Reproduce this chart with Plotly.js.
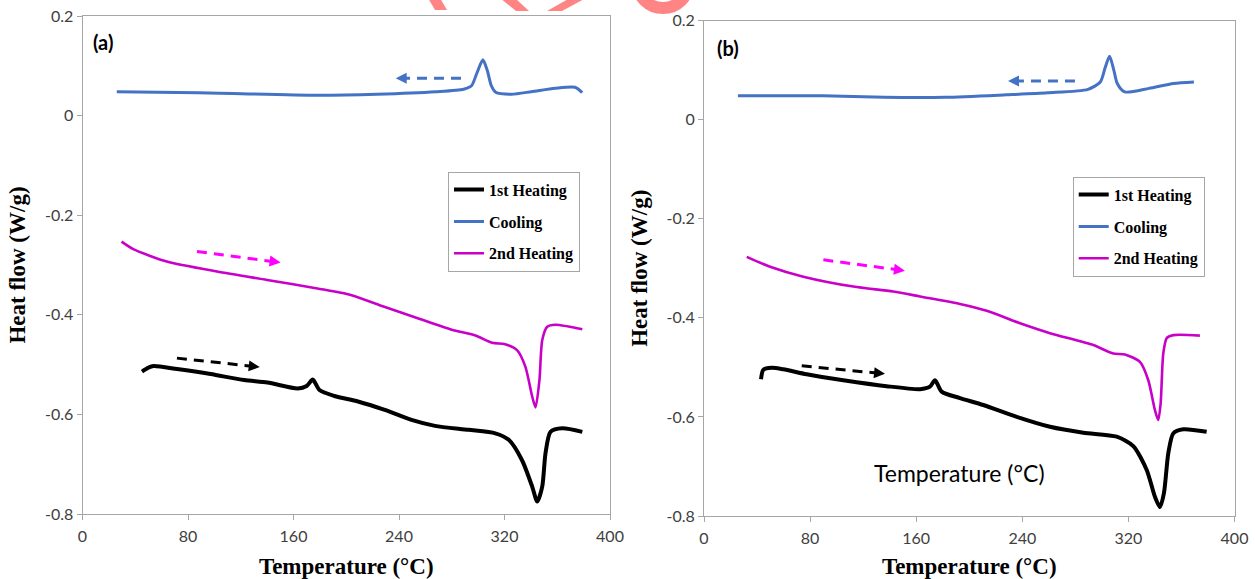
<!DOCTYPE html>
<html>
<head>
<meta charset="utf-8">
<script src="https://cdn.plot.ly/plotly-3.0.1.min.js"></script>
<style>html,body{margin:0;padding:0;background:#fff;}#chart{width:1255px;height:579px;}</style>
</head>
<body>
<div id="chart"></div>
<script>
// ---------- DATA ----------
const seriesNames = ['1st Heating', 'Cooling', '2nd Heating'];
const xTickVals = [0, 80, 160, 240, 320, 400];
const yTickVals = [0.2, 0, -0.2, -0.4, -0.6, -0.8];
const yTickText = ['0.2', '0', '-0.2', '-0.4', '-0.6', '-0.8'];

// Panel (a)
const aHeat1T = [45.1, 50, 54, 71.8, 97.1, 122.5, 140.3, 163.2, 170, 174.6, 179.7, 191.1, 208.9, 229.2, 249.5, 267.3, 292.7, 313, 323.2, 333.3, 341, 344.8, 348.6, 351.1, 354.9, 363.8, 379];
const aHeat1Q = [-0.514, -0.506, -0.503, -0.509, -0.519, -0.531, -0.536, -0.548, -0.543, -0.530, -0.551, -0.563, -0.574, -0.591, -0.611, -0.623, -0.631, -0.638, -0.651, -0.692, -0.745, -0.775, -0.745, -0.678, -0.635, -0.628, -0.635];
const aCoolT = [26, 87.7, 178, 223, 268, 289, 295, 299, 303.6, 307, 310, 313.3, 325.3, 340.3, 358.4, 373.5, 378.9];
const aCoolQ = [0.048, 0.046, 0.041, 0.043, 0.048, 0.053, 0.060, 0.085, 0.112, 0.090, 0.060, 0.047, 0.043, 0.048, 0.055, 0.057, 0.046];
const aHeat2T = [29.6, 38.5, 63.9, 102, 140, 178.1, 203.4, 228.8, 254.2, 280, 297.5, 310.5, 320.5, 329.5, 335.8, 341, 343.5, 346.5, 348.6, 352.4, 358.7, 379];
const aHeat2Q = [-0.253, -0.268, -0.293, -0.313, -0.330, -0.347, -0.360, -0.384, -0.407, -0.430, -0.441, -0.456, -0.459, -0.471, -0.504, -0.564, -0.586, -0.531, -0.451, -0.424, -0.420, -0.429];

// Panel (b)
const bHeat1T = [43, 44.7, 51, 59.8, 77.4, 105, 137.7, 162.9, 170.4, 174.2, 179.2, 193, 210.6, 235.8, 260.9, 286, 311.2, 323.7, 333.8, 340, 343.8, 346.8, 350.1, 353.9, 361.4, 379];
const bHeat1Q = [-0.524, -0.505, -0.501, -0.504, -0.514, -0.526, -0.538, -0.544, -0.539, -0.526, -0.549, -0.562, -0.576, -0.600, -0.620, -0.632, -0.640, -0.659, -0.707, -0.761, -0.782, -0.754, -0.673, -0.633, -0.625, -0.630];
const bCoolT = [25.6, 90, 136, 182, 228, 259, 289.5, 298.8, 302.5, 305.8, 309, 311.6, 317.2, 335.5, 354, 369.4];
const bCoolQ = [0.048, 0.048, 0.045, 0.045, 0.050, 0.054, 0.061, 0.076, 0.105, 0.128, 0.100, 0.073, 0.056, 0.063, 0.073, 0.076];
const bHeat2T = [32.2, 49.8, 74.9, 112.6, 142.7, 162.9, 193, 213.2, 238.3, 260.9, 293.5, 308.6, 317.4, 328.7, 335, 340, 342.5, 344.3, 346.3, 348.9, 353.9, 373.9];
const bHeat2Q = [-0.277, -0.297, -0.317, -0.337, -0.347, -0.357, -0.372, -0.386, -0.411, -0.431, -0.455, -0.472, -0.474, -0.489, -0.526, -0.586, -0.606, -0.573, -0.472, -0.441, -0.435, -0.436];

// ---------- STYLE ----------
const W = 1255, H = 579;
const colors = ['#000000', '#4472C4', '#C800C8'];
const widths = [4, 3, 2.6];
const arrowColors = ['#000000', '#4472C4', '#FF00FF'];
const tickFont = {family: 'Lato, "Open Sans", sans-serif', size: 16, color: '#404040'};
const titleFont = {family: '"Liberation Serif", "Times New Roman", serif', size: 23, color: '#000', weight: 'bold'};
const legendFont = {family: '"Liberation Serif", "Times New Roman", serif', size: 16, color: '#000', weight: 'bold'};

function px(x) { return x / W; }
function py(y) { return 1 - y / H; }

const panelData = [
  {xa: 'x', ya: 'y', legend: 'legend', T: [aHeat1T, aCoolT, aHeat2T], Q: [aHeat1Q, aCoolQ, aHeat2Q]},
  {xa: 'x2', ya: 'y2', legend: 'legend2', T: [bHeat1T, bCoolT, bHeat2T], Q: [bHeat1Q, bCoolQ, bHeat2Q]}
];

const traces = [];
panelData.forEach(p => {
  [0, 1, 2].forEach(i => {
    traces.push({
      type: 'scatter', mode: 'lines',
      x: p.T[i], y: p.Q[i], xaxis: p.xa, yaxis: p.ya,
      name: seriesNames[i], legend: p.legend, legendgroup: p.legend + i,
      line: {color: colors[i], width: widths[i], shape: 'spline', smoothing: 0.7},
      hoverinfo: 'skip'
    });
  });
});

function xAxis(domain, anchor) {
  return {
    domain: domain, anchor: anchor, range: [0, 400], tickmode: 'array', tickvals: xTickVals,
    showline: true, linecolor: '#a6a6a6', linewidth: 1, mirror: true,
    ticks: 'outside', ticklen: 5, tickcolor: '#a6a6a6', tickfont: tickFont, ticklabelstandoff: 3,
    showgrid: false, zeroline: false, fixedrange: true,
    title: {text: 'Temperature (°C)', font: titleFont, standoff: 14}
  };
}
function yAxis(domain, anchor) {
  return {
    domain: domain, anchor: anchor, range: [-0.8, 0.2], tickmode: 'array', tickvals: yTickVals, ticktext: yTickText,
    showline: true, linecolor: '#a6a6a6', linewidth: 1, mirror: true,
    ticks: 'outside', ticklen: 5, tickcolor: '#a6a6a6', tickfont: tickFont,
    showgrid: false, zeroline: false, fixedrange: true,
    title: {text: 'Heat flow (W/g)', font: titleFont, standoff: 12}
  };
}

function legendCfg(x, y) {
  return {
    x: x, y: y, xanchor: 'left', yanchor: 'top', bgcolor: '#fff',
    bordercolor: '#a6a6a6', borderwidth: 1, font: legendFont,
    traceorder: 'grouped', tracegroupgap: 8, itemwidth: 30
  };
}

// dashed direction arrows (tail -> tip) in data units of each panel
const arrows = [
  {xr: 'x', yr: 'y', c: 1, x0: 287, y0: 0.075, x1: 237.5, y1: 0.075, ax: 10, ay: 0},
  {xr: 'x', yr: 'y', c: 2, x0: 86.8, y0: -0.273, x1: 150.2, y1: -0.295, ax: -9.9, ay: -1.3},
  {xr: 'x', yr: 'y', c: 0, x0: 71.6, y0: -0.487, x1: 134.4, y1: -0.505, ax: -9.9, ay: -1.1},
  {xr: 'x2', yr: 'y2', c: 1, x0: 279.7, y0: 0.078, x1: 229.2, y1: 0.078, ax: 10, ay: 0},
  {xr: 'x2', yr: 'y2', c: 2, x0: 90, y0: -0.283, x1: 151.5, y1: -0.305, ax: -9.9, ay: -1.3},
  {xr: 'x2', yr: 'y2', c: 0, x0: 73.7, y0: -0.497, x1: 136.5, y1: -0.513, ax: -9.95, ay: -1.0}
];

const shapes = [];
const annotations = [];
arrows.forEach(a => {
  shapes.push({type: 'line', xref: a.xr, yref: a.yr, x0: a.x0, y0: a.y0, x1: a.x1, y1: a.y1,
    line: {color: arrowColors[a.c], width: 3, dash: '10px,7px'}});
  annotations.push({xref: a.xr, yref: a.yr, x: a.x1, y: a.y1, ax: a.ax, ay: a.ay, text: '',
    showarrow: true, arrowhead: 2, arrowsize: 1, arrowwidth: 2.2, arrowcolor: arrowColors[a.c], standoff: 0});
});

// panel labels
annotations.push({xref: 'paper', yref: 'paper', x: px(103), y: py(42), xanchor: 'center', yanchor: 'middle',
  text: '(a)', showarrow: false, font: {family: 'Lato, sans-serif', size: 20, color: '#000', weight: 'bold'}});
annotations.push({xref: 'paper', yref: 'paper', x: px(728), y: py(48), xanchor: 'center', yanchor: 'middle',
  text: '(b)', showarrow: false, font: {family: 'Lato, sans-serif', size: 20, color: '#000', weight: 'bold'}});
// stray label inside panel (b)
annotations.push({xref: 'x2', yref: 'y2', x: 192.3, y: -0.713, xanchor: 'center', yanchor: 'middle',
  text: 'Temperature (°C)', showarrow: false, font: {family: 'Lato, "Open Sans", sans-serif', size: 23, color: '#000'}});

// cropped red watermark at the top
const wm = 'rgba(255,120,120,0.9)';
function pth(pts) { return 'M' + pts.map(p => px(p[0]) + ',' + py(p[1])).join('L') + 'Z'; }
shapes.push({type: 'path', xref: 'paper', yref: 'paper', path: pth([[428, -2], [440, -2], [447, 10], [435, 10]]), fillcolor: wm, line: {width: 0}});
shapes.push({type: 'path', xref: 'paper', yref: 'paper', path: pth([[500, -2], [515, -2], [529, 11], [516, 11]]), fillcolor: wm, line: {width: 0}});
shapes.push({type: 'path', xref: 'paper', yref: 'paper', path: pth([[547, 11], [562, 11], [586, -2], [570, -2]]), fillcolor: wm, line: {width: 0}});
shapes.push({type: 'circle', xref: 'paper', yref: 'paper', x0: px(637), x1: px(689), y0: py(-44), y1: py(8), line: {color: wm, width: 12}});

const layout = {
  width: W, height: H, margin: {l: 0, r: 0, t: 0, b: 0},
  paper_bgcolor: '#fff', plot_bgcolor: '#fff', showlegend: true,
  xaxis: xAxis([px(82.5), px(610)], 'y'),
  yaxis: yAxis([py(514), py(16)], 'x'),
  xaxis2: xAxis([px(704), px(1234.5)], 'y2'),
  yaxis2: yAxis([py(516), py(20.5)], 'x2'),
  legend: legendCfg(px(448), py(171.7)),
  legend2: legendCfg(px(1072.7), py(176.7)),
  shapes: shapes, annotations: annotations
};

Plotly.newPlot('chart', traces, layout, {staticPlot: true, displayModeBar: false});
</script>
</body>
</html>
